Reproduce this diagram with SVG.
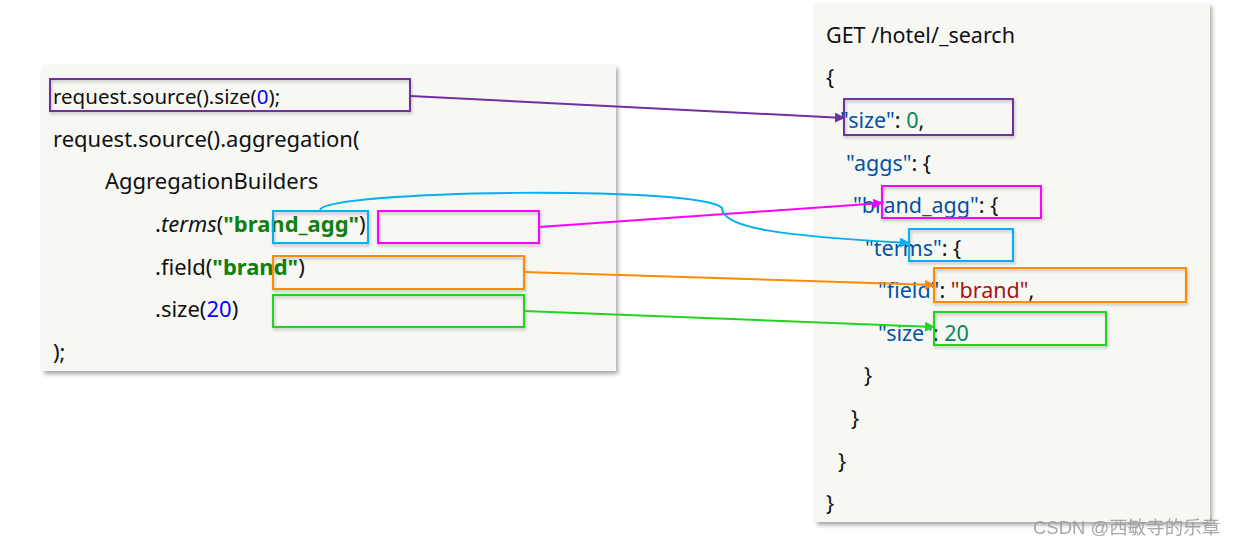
<svg xmlns="http://www.w3.org/2000/svg" width="1240" height="547" viewBox="0 0 1240 547">
<style>
.code{font-family:"Noto Sans","Open Sans","DejaVu Sans",sans-serif;font-size:22px;fill:#111}
.r{font-size:21.5px}
.k{fill:#0451a5}.num{fill:#098658}.str{fill:#a31515}.blue{fill:#0000ff}.gs{fill:#118011;font-weight:bold}
.box{fill:none;stroke-width:2;filter:url(#bs)}
.conn{fill:none;stroke-width:2}
</style>
<defs>
<filter id="ps" x="-5%" y="-5%" width="110%" height="110%"><feDropShadow dx="2" dy="3" stdDeviation="2" flood-color="#000" flood-opacity="0.35"/></filter>
<filter id="bs" x="-10%" y="-20%" width="120%" height="150%"><feDropShadow dx="1" dy="2" stdDeviation="1.5" flood-color="#000" flood-opacity="0.25"/></filter>
<marker id="aP" viewBox="0 0 10 10" refX="9" refY="5" markerWidth="5" markerHeight="5" orient="auto"><path d="M0,0 L10,5 L0,10 z" fill="#7030a0"/></marker>
<marker id="aM" viewBox="0 0 10 10" refX="9" refY="5" markerWidth="5" markerHeight="5" orient="auto"><path d="M0,0 L10,5 L0,10 z" fill="#ff00ff"/></marker>
<marker id="aC" viewBox="0 0 10 10" refX="9" refY="5" markerWidth="5" markerHeight="5" orient="auto"><path d="M0,0 L10,5 L0,10 z" fill="#00b0f0"/></marker>
<marker id="aO" viewBox="0 0 10 10" refX="9" refY="5" markerWidth="5" markerHeight="5" orient="auto"><path d="M0,0 L10,5 L0,10 z" fill="#ff8c00"/></marker>
<marker id="aG" viewBox="0 0 10 10" refX="9" refY="5" markerWidth="5" markerHeight="5" orient="auto"><path d="M0,0 L10,5 L0,10 z" fill="#22d422"/></marker>
</defs>
<rect width="1240" height="547" fill="#fff"/>
<g id="java-panel">
<rect x="42" y="65" width="574" height="306" fill="#f7f8f4" filter="url(#ps)"/>
<text class="code" x="53" y="104" style="font-size:20.5px">request.source().size(<tspan class="blue">0</tspan>);</text>
<text class="code" x="53" y="147">request.source().aggregation(</text>
<text class="code" x="105" y="189">AggregationBuilders</text>
<text class="code" x="155" y="232">.<tspan font-style="italic">terms</tspan>(<tspan class="gs">"brand_agg"</tspan>)</text>
<text class="code" x="155" y="275">.field(<tspan class="gs">"brand"</tspan>)</text>
<text class="code" x="155" y="317">.size(<tspan class="blue">20</tspan>)</text>
<text class="code" x="53" y="360">);</text>
</g>
<g id="dsl-panel">
<rect x="815" y="3" width="395" height="519" fill="#f7f8f4" filter="url(#ps)"/>
<text class="code r" x="826" y="43">GET /hotel/_search</text>
<text class="code r" x="826" y="85">{</text>
<text class="code r" x="840" y="128"><tspan class="k">"size"</tspan>: <tspan class="num">0</tspan>,</text>
<text class="code r" x="846" y="171"><tspan class="k">"aggs"</tspan>: {</text>
<text class="code r" x="853" y="213"><tspan class="k">"brand_agg"</tspan>: {</text>
<text class="code r" x="865" y="256"><tspan class="k">"terms"</tspan>: {</text>
<text class="code r" x="878" y="298"><tspan class="k">"field"</tspan>: <tspan class="str">"brand"</tspan>,</text>
<text class="code r" x="878" y="341"><tspan class="k">"size"</tspan>: <tspan class="num">20</tspan></text>
<text class="code r" x="864" y="383">}</text>
<text class="code r" x="851" y="426">}</text>
<text class="code r" x="838" y="469">}</text>
<text class="code r" x="826" y="511">}</text>
</g>
<g id="highlight-boxes">
<rect class="box" x="50" y="79" width="360" height="32" stroke="#7030a0"/>
<rect class="box" x="273" y="211" width="95" height="32" stroke="#00b0f0"/>
<rect class="box" x="378" y="211" width="161" height="32" stroke="#ff00ff"/>
<rect class="box" x="273" y="256" width="251" height="33" stroke="#ff8c00"/>
<rect class="box" x="273" y="295" width="251" height="32" stroke="#22d422"/>
<rect class="box" x="844" y="99" width="169" height="36" stroke="#7030a0"/>
<rect class="box" x="882" y="186" width="159" height="32" stroke="#ff00ff"/>
<rect class="box" x="909" y="229" width="104" height="32" stroke="#00b0f0"/>
<rect class="box" x="934" y="268" width="252" height="34" stroke="#ff8c00"/>
<rect class="box" x="934" y="312" width="172" height="33" stroke="#22d422"/>
</g>
<g id="connectors">
<path class="conn" d="M410,96 L844,118" stroke="#7030a0" marker-end="url(#aP)"/>
<path class="conn" d="M539,227 L882,203" stroke="#ff00ff" marker-end="url(#aM)"/>
<path class="conn" d="M320,210 C325,190 700,185 722,208 C722,228 780,236 909,243" stroke="#00b0f0" marker-end="url(#aC)"/>
<path class="conn" d="M524,272 L934,285" stroke="#ff8c00" marker-end="url(#aO)"/>
<path class="conn" d="M524,311 L934,327" stroke="#22d422" marker-end="url(#aG)"/>
</g>
<text x="1033" y="534" font-family="'Liberation Sans','Noto Sans CJK SC',sans-serif" font-size="18.5" fill="#999" opacity="0.85">CSDN @西敏寺的乐章</text>
</svg>
